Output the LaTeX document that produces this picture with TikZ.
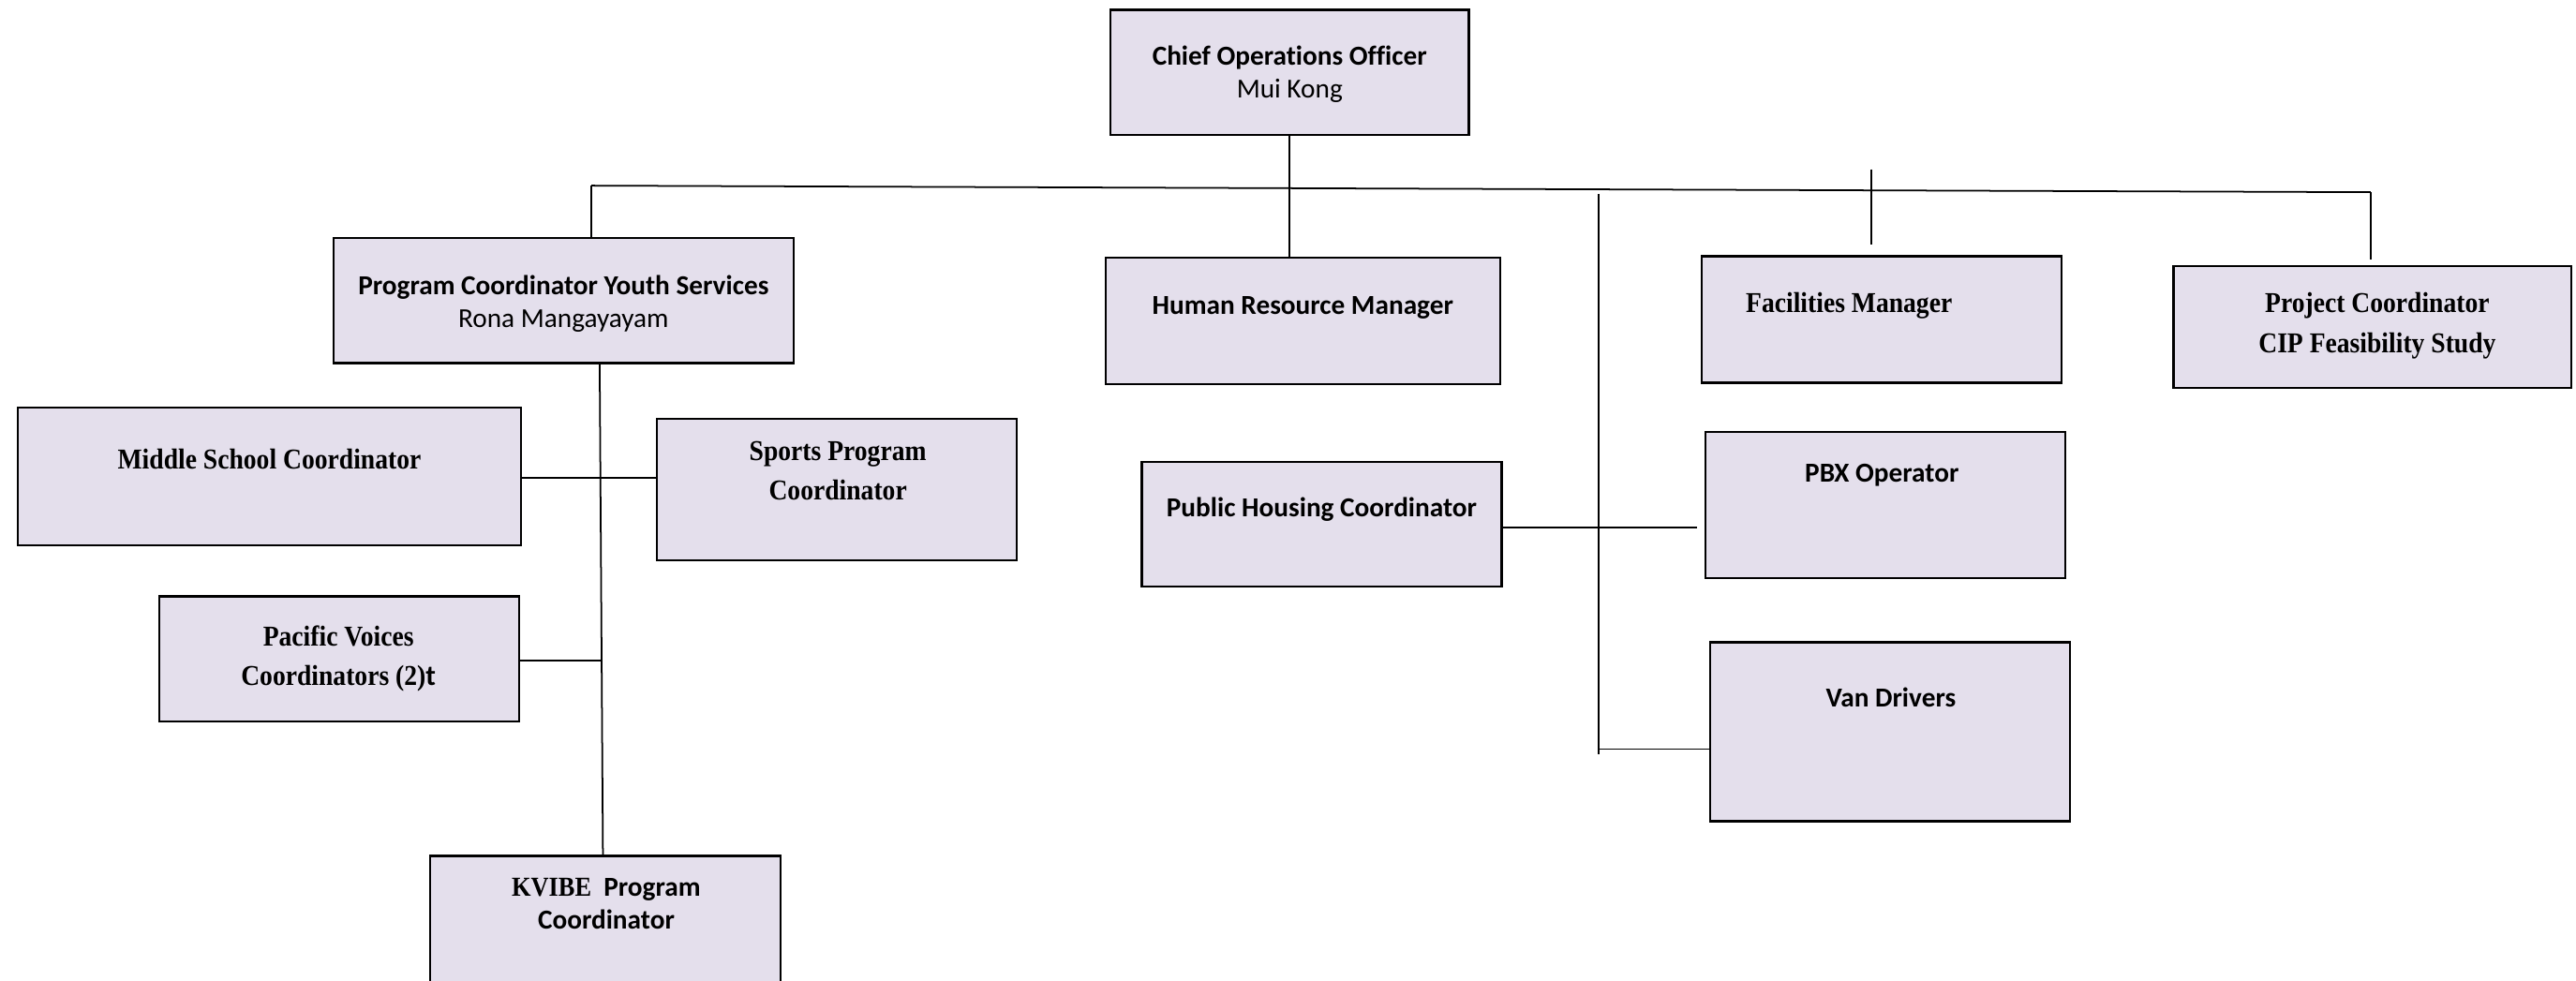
\documentclass[tikz,border=0pt]{standalone}
\usepackage{fontspec}
\setmainfont{Carlito}[Ligatures=NoCommon]
\newfontfamily\serifc[FakeStretch=0.9]{Liberation Serif}
\definecolor{boxfill}{HTML}{E4DFEC}
\tikzset{
  box/.style={draw=black, fill=boxfill, line width=1.3pt, inner sep=0pt, outer sep=0pt},
  conn/.style={draw=black, line width=1pt},
  sansb/.style={anchor=base, inner sep=0pt, font=\fontsize{16.7}{20}\selectfont\bfseries},
  sansr/.style={anchor=base, inner sep=0pt, font=\fontsize{16.7}{20}\selectfont},
  serb/.style={anchor=base, inner sep=0pt, font=\fontsize{17.5}{24}\selectfont\serifc\bfseries}
}
\begin{document}
\begin{tikzpicture}[x=1pt,y=-1pt]
\clip (0,0) rectangle (1568,597);
\fill[white] (0,0) rectangle (1568,597);
% boxes
\node[box, minimum width=218pt, minimum height=76pt] (coo) at (785,44) {};
\node[box, minimum width=280pt, minimum height=76pt] (pcys) at (343,183) {};
\node[box, minimum width=240pt, minimum height=77pt] (hr) at (793,195.5) {};
\node[box, minimum width=219pt, minimum height=77pt] (fac) at (1145.5,194.5) {};
\node[box, minimum width=242pt, minimum height=74pt] (proj) at (1444,199) {};
\node[box, minimum width=306pt, minimum height=84pt] (mid) at (164,290) {};
\node[box, minimum width=219pt, minimum height=86pt] (sports) at (509.5,298) {};
\node[box, minimum width=219pt, minimum height=76pt] (pac) at (206.5,401) {};
\node[box, minimum width=213pt, minimum height=90pt] (kvibe) at (368.5,566) {};
\node[box, minimum width=219pt, minimum height=76pt] (pub) at (804.5,319) {};
\node[box, minimum width=219pt, minimum height=89pt] (pbx) at (1147.5,307.5) {};
\node[box, minimum width=219pt, minimum height=109pt] (van) at (1150.5,445.5) {};
% texts
\node[sansb] (cooA) at (785,39.5) {Chief Operations Officer};
\node[sansr] (cooB) at (785,59.5) {Mui Kong};
\node[sansb] (pcysA) at (343,179.5) {Program Coordinator Youth Services};
\node[sansr] (pcysB) at (343,199.5) {Rona Mangayayam};
\node[sansb] (hrA) at (793,191.5) {Human Resource Manager};
\node[serb] (facA) at (1125.5,190.5) {Facilities Manager};
\node[serb] (projA) at (1447,190.5) {Project Coordinator};
\node[serb] (projB) at (1447,214.5) {CIP Feasibility Study};
\node[serb] (midA) at (164,285.5) {Middle School Coordinator};
\node[serb] (sportsA) at (510,280.5) {Sports Program};
\node[serb] (sportsB) at (510,304.5) {Coordinator};
\node[serb] (pacA) at (206,393.5) {Pacific Voices};
\node[serb] (pacB) at (206,417.5) {Coordinators (2){\rmfamily t}};
\node[sansb] (kvibeA) at (369,545.5) {{\serifc KVIBE}\ \ Program};
\node[sansb] (kvibeB) at (369,565.5) {Coordinator};
\node[sansb] (pubA) at (804.5,314.5) {Public Housing Coordinator};
\node[sansb] (pbxA) at (1145.5,293.5) {PBX Operator};
\node[sansb] (vanA) at (1151,430.5) {Van Drivers};
% free ends
\coordinate (busL) at (360,113);
\coordinate (busR) at (1443,117);
\coordinate (facTop) at (1139,103);
\coordinate (facBot) at (1139,149);
\coordinate (projTop) at (1443,117);
\coordinate (projBot) at (1443,158);
\coordinate (vTop) at (973,118);
\coordinate (vBot) at (973,459);
\coordinate (vVan) at (973,456);
\coordinate (pbxEnd) at (1033,321);
\coordinate (pacEnd) at (366,402);
\coordinate (pcysOut) at (365,221);
\coordinate (kvibeIn) at (367,521);
% connectors
\draw[conn] (coo.south) -- (coo.south |- hr.north);
\draw[conn] (busL) -- (busR);
\draw[conn] (busL) -- (busL |- pcys.north);
\draw[conn] (facTop) -- (facBot);
\draw[conn] (projTop) -- (projBot);
\draw[conn] (vTop) -- (vBot);
\draw[conn] (vVan) -- (vVan -| van.west);
\draw[conn] (pub.east |- pbxEnd) -- (pbxEnd);
\draw[conn] (pcysOut) -- (kvibeIn);
\draw[conn] (mid.east |- 0,291) -- (sports.west |- 0,291);
\draw[conn] (pac.east |- pacEnd) -- (pacEnd);
\end{tikzpicture}
\end{document}
